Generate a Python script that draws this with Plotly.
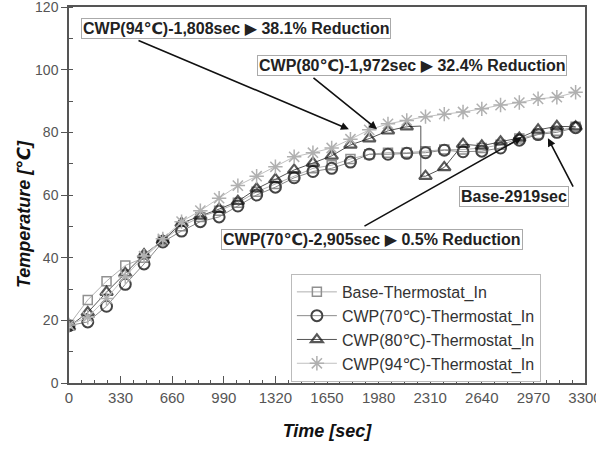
import plotly.graph_objects as go

# ---- data ----
time = [0, 120, 240, 360, 480, 600, 720, 840, 960, 1080, 1200, 1320, 1440, 1560,
        1680, 1800, 1920, 2040, 2160, 2280, 2400, 2520, 2640, 2760, 2880, 3000, 3120, 3240]
base = [18.5, 26.5, 32.5, 37.5, 40.0, 45.5, 50.0, 53.0, 55.0, 57.5, 61.0, 63.5, 66.0, 68.5,
        69.5, 71.5, 73.0, 73.5, 73.5, 74.0, 74.5, 74.5, 75.0, 76.0, 78.0, 79.5, 80.5, 81.8]
cwp70 = [18.3, 19.5, 24.5, 31.5, 38.0, 45.0, 48.5, 51.5, 53.0, 56.5, 60.0, 62.5, 65.5, 67.5,
         68.5, 70.5, 73.0, 73.0, 73.3, 73.5, 74.3, 73.8, 74.0, 75.0, 77.5, 79.3, 80.0, 81.5]
cwp80 = [18.0, 22.5, 29.0, 35.0, 41.0, 45.5, 51.0, 53.3, 55.5, 58.0, 62.0, 65.0, 68.0, 70.2,
         72.5, 76.0, 78.0, 80.5, 81.8, 66.0, 68.8, 76.2, 75.7, 77.0, 78.2, 80.8, 81.9, 81.8]
cwp94 = [18.5, 21.0, 27.0, 34.0, 40.5, 46.0, 51.5, 55.0, 59.0, 63.0, 66.0, 69.0, 72.2, 73.5,
         75.0, 77.8, 80.8, 82.7, 83.8, 85.0, 85.8, 86.5, 87.5, 88.7, 89.5, 90.7, 91.2, 92.8]
# CWP(80) step-down (thermostat opening) between samples
drop80_time = 2250
drop80_from, drop80_to = 82.0, 66.0

x_ticks = [0, 330, 660, 990, 1320, 1650, 1980, 2310, 2640, 2970, 3300]
y_ticks = [0, 20, 40, 60, 80, 100, 120]

# annotations: (text, box_x, box_y, tail_x, tail_y, head_x, head_y)
notes = [
    ("CWP(94℃)-1,808sec ▶ 38.1% Reduction", 1068, 113.0, 435, 109.5, 1790, 81.0),
    ("CWP(80℃)-1,972sec ▶ 32.4% Reduction", 2194, 101.4, 1554, 97.8, 1970, 81.0),
    ("Base-2919sec", 2846, 59.5, 3229, 62.2, 3063, 78.1),
    ("CWP(70℃)-2,905sec ▶ 0.5% Reduction", 1938, 45.7, 1880, 49.8, 2897, 78.4),
]

FONT = "Arial, 'Liberation Sans', 'DejaVu Sans', sans-serif"

fig = go.Figure()

# build CWP(80) line including the step
idx = next(i for i, t in enumerate(time) if t > drop80_time)
x80 = time[:idx] + [drop80_time, drop80_time] + time[idx:]
y80 = cwp80[:idx] + [drop80_from, drop80_to] + cwp80[idx:]
s80 = [11] * idx + [0, 0] + [11] * (len(time) - idx)

fig.add_trace(go.Scatter(
    x=time, y=base, mode="lines+markers", name="Base-Thermostat_In",
    line=dict(color="#b0b0b0", width=1),
    marker=dict(symbol="square-open", size=9, color="#909090", line=dict(width=1.5))))
fig.add_trace(go.Scatter(
    x=time, y=cwp70, mode="lines+markers", name="CWP(70℃)-Thermostat_In",
    line=dict(color="#8a8a8a", width=1),
    marker=dict(symbol="circle-open", size=11, color="#444444", line=dict(width=2))))
fig.add_trace(go.Scatter(
    x=x80, y=y80, mode="lines+markers", name="CWP(80℃)-Thermostat_In",
    line=dict(color="#555555", width=1),
    marker=dict(symbol="triangle-up-open", size=s80, color="#111111", line=dict(width=2.2))))
fig.add_trace(go.Scatter(
    x=time, y=cwp94, mode="lines+markers", name="CWP(94℃)-Thermostat_In",
    line=dict(color="#c0c0c0", width=1),
    marker=dict(symbol="asterisk-open", size=12, color="#b0b0b0", line=dict(width=1.5))))

annotations = []
for text, bx, by, tx, ty, hx, hy in notes:
    annotations.append(dict(
        x=hx, y=hy, ax=tx, ay=ty, xref="x", yref="y", axref="x", ayref="y",
        text="", showarrow=True, arrowhead=2, arrowsize=1, arrowwidth=1.6,
        arrowcolor="#111111"))
    annotations.append(dict(
        x=bx, y=by, xref="x", yref="y", text="<b>" + text + "</b>", showarrow=False,
        font=dict(family=FONT, size=16, color="#222222"),
        bgcolor="white", bordercolor="#aaaaaa", borderwidth=1, borderpad=1))

# y-axis title as annotation (positioned like the reference)
annotations.append(dict(
    x=-0.11, y=0.45, xref="paper", yref="paper", textangle=-90,
    text="<b><i>Temperature [℃]</i></b>", showarrow=False,
    font=dict(family=FONT, size=18, color="#111111")))

fig.update_layout(
    width=596, height=451,
    margin=dict(l=69, r=11, t=7, b=68, autoexpand=False),
    paper_bgcolor="white", plot_bgcolor="white",
    font=dict(family=FONT, size=15, color="#444444"),
    showlegend=True,
    legend=dict(x=0.43, y=0.29, xanchor="left", yanchor="top",
                bgcolor="white", bordercolor="#bbbbbb", borderwidth=1,
                font=dict(family=FONT, size=16, color="#333333"),
                tracegroupgap=0, itemwidth=40),
    annotations=annotations,
)
fig.update_xaxes(
    range=[0, 3300], tickvals=x_ticks, ticktext=[str(v) for v in x_ticks],
    showgrid=False, zeroline=False, showline=True, linecolor="#555555", linewidth=1.5,
    mirror=True, ticks="inside", ticklen=7, tickcolor="#555555", ticklabeloverflow="allow",
    automargin=False,
    minor=dict(dtick=82.5, tick0=0, ticks="inside", ticklen=3, tickcolor="#555555"),
    title=dict(text="<b><i>Time [sec]</i></b>", font=dict(family=FONT, size=18, color="#111111"),
               standoff=20),
    tickfont=dict(family=FONT, size=15, color="#555555"))
fig.update_yaxes(
    range=[0, 120], tickvals=y_ticks,
    showgrid=False, zeroline=False, showline=True, linecolor="#555555", linewidth=1.5,
    mirror=True, ticks="outside", ticklen=6, tickcolor="#555555", ticklabeloverflow="allow",
    automargin=False,
    minor=dict(dtick=10, tick0=0, ticks="inside", ticklen=4, tickcolor="#555555"),
    tickfont=dict(family=FONT, size=14, color="#555555"))

fig.write_html("out.html")
